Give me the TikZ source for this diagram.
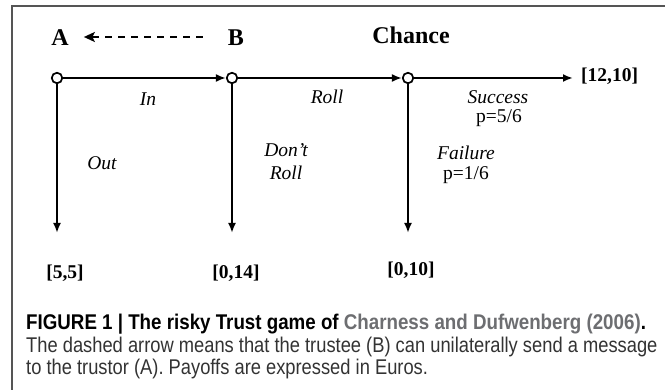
\documentclass[tikz,border=0pt]{standalone}
\usepackage{fontspec}
\setmainfont{Liberation Serif}
\newfontfamily\capfont[FakeStretch=0.88]{Liberation Sans}
\newfontfamily\capfontr[FakeStretch=0.86]{Liberation Sans}
\usetikzlibrary{arrows.meta}
\definecolor{frame}{HTML}{555555}
\definecolor{capgray}{HTML}{6D6E71}
\definecolor{captext}{HTML}{333333}
\tikzset{
  dot/.style={circle,draw,fill=white,inner sep=0pt,minimum size=10.5pt,line width=1.7pt},
  branch/.style={line width=2pt,-{Latex[length=10pt,width=8pt]}},
  msgarrow/.style={line width=2.6pt,dash pattern=on 7pt off 6pt,-{Stealth[length=11pt,width=10pt,inset=2.5pt]}},
  player/.style={font=\fontsize{24}{28}\selectfont\bfseries,inner sep=3pt},
  payoff/.style={font=\fontsize{19.5}{22}\selectfont\bfseries,inner sep=3pt},
  act/.style={font=\fontsize{19.5}{22}\selectfont\itshape,inner sep=0pt,align=center},
  prob/.style={font=\fontsize{19.5}{22}\selectfont,inner sep=0pt,align=center},
  capline/.style={anchor=west,inner sep=0pt,font=\capfont\fontsize{21.3}{24}\selectfont},
  caplinereg/.style={anchor=west,inner sep=0pt,text=captext,font=\capfontr\fontsize{21.3}{24}\selectfont}
}
\begin{document}
\begin{tikzpicture}[x=1pt,y=-1pt]
\useasboundingbox (0,0) rectangle (665,390);
\fill[white] (0,0) rectangle (665,390);
% frame
\draw[frame,line width=1.4pt] (12,390) -- (12,6) -- (665,6);
% players
\node[player] (A) at (60,38) {A};
\node[player] (B) at (236,38) {B};
\node[player] (C) at (411,35) {Chance};
\draw[msgarrow] ([xshift=-22pt,yshift=1pt]B.west) -- ([xshift=12pt,yshift=1pt]A.east);
% decision nodes
\node[dot] (n1) at (57,78) {};
\node[dot] (n2) at (232,78) {};
\node[dot] (n3) at (408,78) {};
% payoffs
\node[payoff] (p1) at (65,273) {[5,5]};
\node[payoff] (p2) at (236,273) {[0,14]};
\node[payoff] (p3) at (411,270) {[0,10]};
\node[payoff,anchor=west] (p4) at (578,76) {[12,10]};
\coordinate (e1) at (57,233);
\coordinate (e2) at (232,233);
\coordinate (e3) at (408,233);
% branches
\draw[branch] (n1) -- (n2);
\draw[branch] (n2) -- (n3);
\draw[branch] (n3) -- ([xshift=-5pt]p4.west |- n3);
\draw[branch] (n1) -- (e1);
\draw[branch] (n2) -- (e2);
\draw[branch] (n3) -- (e3);
% action labels
\node[act] (lin) at (148,99) {In};
\node[act] (lroll) at (327,97) {Roll};
\node[act] (lout) at (102,163) {Out};
\node[act] (ldont) at (286,162) {Don’t\\[1pt]Roll};
\node[act] (lsucc) at (498,97) {Success};
\node[prob] (psucc) at (499,118) {p=5/6};
\node[act] (lfail) at (466,153) {Failure};
\node[prob] (pfail) at (466,175) {p=1/6};
% caption
\node[capline] (cap1) at (26,324) {\bfseries FIGURE 1 | The risky Trust game of \textcolor{capgray}{Charness and Dufwenberg (2006)}.};
\node[caplinereg] (cap2) at (26,347) {The dashed arrow means that the trustee (B) can unilaterally send a message};
\node[caplinereg] (cap3) at (26,369) {to the trustor (A). Payoffs are expressed in Euros.};
\end{tikzpicture}
\end{document}
